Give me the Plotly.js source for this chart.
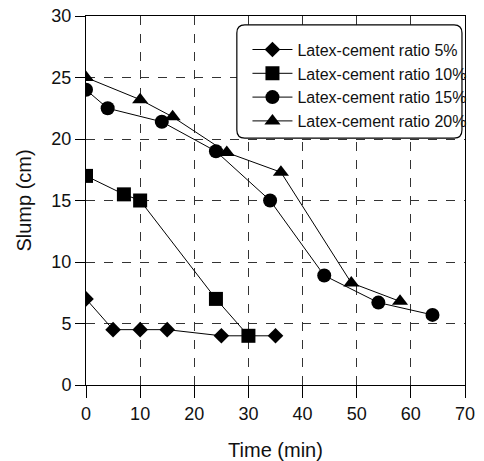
<!DOCTYPE html>
<html>
<head>
<meta charset="utf-8">
<script src="https://cdn.plot.ly/plotly-3.0.1.min.js"></script>
<style>
html,body{margin:0;padding:0;background:#fff;}
#chart{width:484px;height:461px;}
</style>
</head>
<body>
<div id="chart"></div>
<script>
// Data
var seriesNames = ["Latex-cement ratio 5%", "Latex-cement ratio 10%", "Latex-cement ratio 15%", "Latex-cement ratio 20%"];
var time5 = [0, 5, 10, 15, 25, 35];
var slump5 = [7, 4.5, 4.5, 4.5, 4, 4];
var time10 = [0, 7, 10, 24, 30];
var slump10 = [17, 15.5, 15, 7, 4];
var time15 = [0, 4, 14, 24, 34, 44, 54, 64];
var slump15 = [24, 22.5, 21.4, 19, 15, 8.9, 6.7, 5.7];
var time20 = [0, 10, 16, 26, 36, 49, 58];
var slump20 = [25, 23.2, 21.8, 18.9, 17.3, 8.3, 6.8];
var xTicks = [0, 10, 20, 30, 40, 50, 60, 70];
var yTicks = [0, 5, 10, 15, 20, 25, 30];

var FONT = "Liberation Sans, Arial, sans-serif";
var symbols = ["diamond", "square", "circle", "triangle-up"];
var sizes = [12, 14, 14, 14];
var xs = [time5, time10, time15, time20];
var ys = [slump5, slump10, slump15, slump20];

var traces = seriesNames.map(function (n, i) {
  return {
    x: xs[i], y: ys[i], name: n, type: "scatter", mode: "lines+markers",
    line: {color: "#000", width: 1},
    marker: {symbol: symbols[i], size: sizes[i], color: "#000", line: {width: 0}}
  };
});

var axisCommon = {
  showline: true, mirror: true, linecolor: "#000", linewidth: 1,
  ticks: "outside", ticklen: 10, tickcolor: "#000", tickwidth: 1,
  showgrid: true, gridcolor: "#333", griddash: "dash", gridwidth: 1,
  zeroline: false,
  tickfont: {family: FONT, size: 18, color: "#111"}
};

var layout = {
  width: 484, height: 461,
  margin: {l: 86, r: 19, t: 16, b: 76},
  paper_bgcolor: "#fff", plot_bgcolor: "#fff",
  font: {family: FONT, color: "#111"},
  showlegend: true,
  xaxis: Object.assign({}, axisCommon, {
    range: [0, 70], tickvals: xTicks, ticklen: 12,
    title: {text: "Time (min)", font: {family: FONT, size: 20, color: "#111"}, standoff: 26}
  }),
  yaxis: Object.assign({}, axisCommon, {
    range: [0, 30], tickvals: yTicks,
    title: {text: "Slump (cm)", font: {family: FONT, size: 20, color: "#111"}, standoff: 14}
  }),
  legend: {
    x: 0.426, y: 0.955, xanchor: "left", yanchor: "top",
    bgcolor: "rgba(0,0,0,0)", borderwidth: 0,
    font: {family: FONT, size: 16, color: "#111"},
    itemwidth: 40
  },
  shapes: [{
    type: "path", xref: "paper", yref: "paper", layer: "above",
    path: "M 0.419,0.976 L 0.971,0.976 Q 0.992,0.976 0.992,0.954 L 0.992,0.691 Q 0.992,0.669 0.971,0.669 L 0.419,0.669 Q 0.398,0.669 0.398,0.691 L 0.398,0.954 Q 0.398,0.976 0.419,0.976 Z",
    line: {color: "#000", width: 1.2}, fillcolor: "#fff"
  }]
};

Plotly.newPlot("chart", traces, layout, {displayModeBar: false, staticPlot: true});
</script>
</body>
</html>
